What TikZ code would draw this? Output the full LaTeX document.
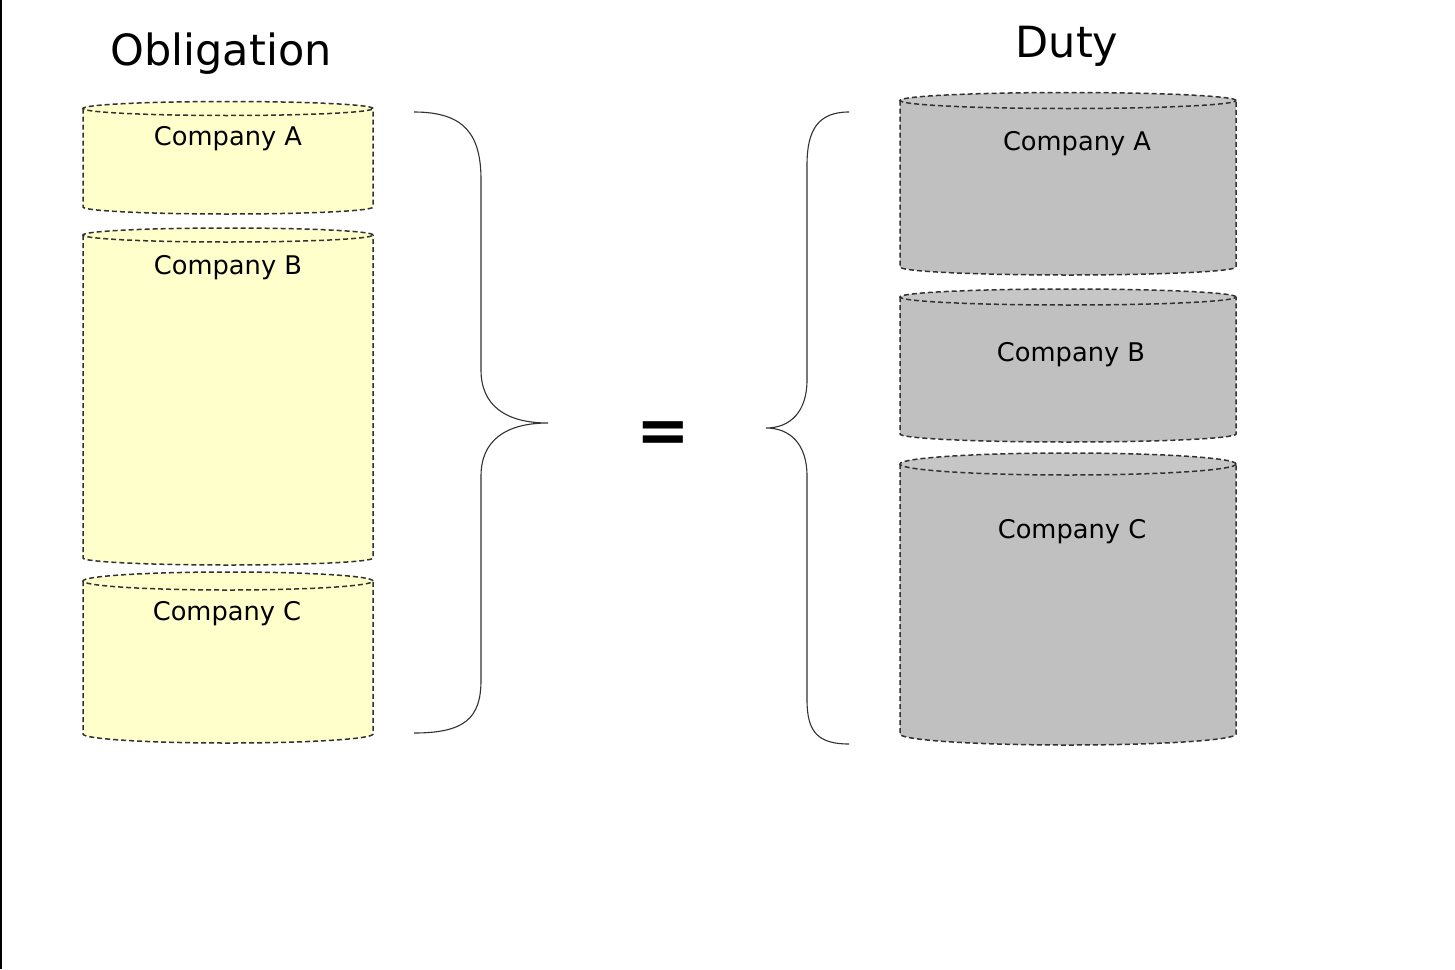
\documentclass[tikz,border=0pt]{standalone}
\usepackage{fontspec}
\setmainfont{DejaVu Sans}
\definecolor{oblyellow}{RGB}{255,255,204}
\definecolor{dutygray}{RGB}{192,192,192}
\definecolor{dutytop}{RGB}{198,198,198}
\definecolor{edgegray}{RGB}{50,50,50}
\tikzset{
  cyledge/.style={draw=edgegray, line width=1.5pt, dash pattern=on 5pt off 3pt},
  bracestyle/.style={draw=edgegray, line width=1.1pt},
  complabel/.style={font=\fontsize{25.7}{30}\selectfont, anchor=base, inner sep=0pt},
  titlelabel/.style={font=\fontsize{43}{50}\selectfont, anchor=base, inner sep=0pt},
}
% #1 cx, #2 rx, #3 y of top ellipse centre, #4 y of bottom ellipse centre, #5 ry, #6 body colour, #7 top colour
\newcommand{\mycyl}[7]{%
  \fill[#6] (#1-#2,#3) -- (#1-#2,#4) arc[start angle=180,end angle=360,x radius=#2pt,y radius=#5pt] -- (#1+#2,#3) -- cycle;
  \draw[cyledge] (#1-#2,#3) -- (#1-#2,#4) arc[start angle=180,end angle=360,x radius=#2pt,y radius=#5pt] -- (#1+#2,#3);
  \draw[cyledge, fill=#7] (#1,#3) ellipse[x radius=#2pt, y radius=#5pt];
}
\begin{document}
\begin{tikzpicture}[x=1pt,y=-1pt]
\useasboundingbox (0,0) rectangle (1455,969);
\fill[white] (0,0) rectangle (1455,969);
\draw[black, line width=2pt] (1,0) -- (1,969);

% titles
\node[titlelabel] (tobl) at (221,65) {Obligation};
\node[titlelabel] (tduty) at (1067,57) {Duty};

% left cylinders
\mycyl{228}{145}{108.5}{207}{7}{oblyellow}{oblyellow}
\mycyl{228}{145}{235}{558}{7}{oblyellow}{oblyellow}
\mycyl{228}{145}{581}{734}{9}{oblyellow}{oblyellow}
\node[complabel] (la) at (228,145) {Company A};
\node[complabel] (lb) at (228,274) {Company B};
\node[complabel] (lc) at (227,620) {Company C};

% right cylinders
\mycyl{1068}{168}{100.5}{267}{8}{dutygray}{dutytop}
\mycyl{1068}{168}{297}{434}{8}{dutygray}{dutytop}
\mycyl{1068}{168}{464}{734}{11}{dutygray}{dutytop}
\node[complabel] (ra) at (1077,150) {Company A};
\node[complabel] (rb) at (1071,361) {Company B};
\node[complabel] (rc) at (1072,538) {Company C};

% braces
\coordinate (lbtop) at (414,112);
\coordinate (lbtip) at (548,423);
\coordinate (lbbot) at (414,733);
\draw[bracestyle] (lbtop) .. controls (465,112) and (481,135) .. (481,180)
  -- (481,370) .. controls (481,405) and (505,423) .. (lbtip)
  .. controls (505,423) and (481,441) .. (481,476)
  -- (481,680) .. controls (481,718) and (465,733) .. (lbbot);

\coordinate (rbtop) at (849,112);
\coordinate (rbtip) at (766,428);
\coordinate (rbbot) at (849,744);
\draw[bracestyle] (rbtop) .. controls (818,112) and (807,130) .. (807,165)
  -- (807,380) .. controls (807,412) and (790,428) .. (rbtip)
  .. controls (790,428) and (807,444) .. (807,476)
  -- (807,700) .. controls (807,732) and (818,744) .. (rbbot);

% equals sign
\node[font=\bfseries\fontsize{64}{70}\selectfont, inner sep=0pt] (eq) at (663,437) {=};
\end{tikzpicture}
\end{document}
